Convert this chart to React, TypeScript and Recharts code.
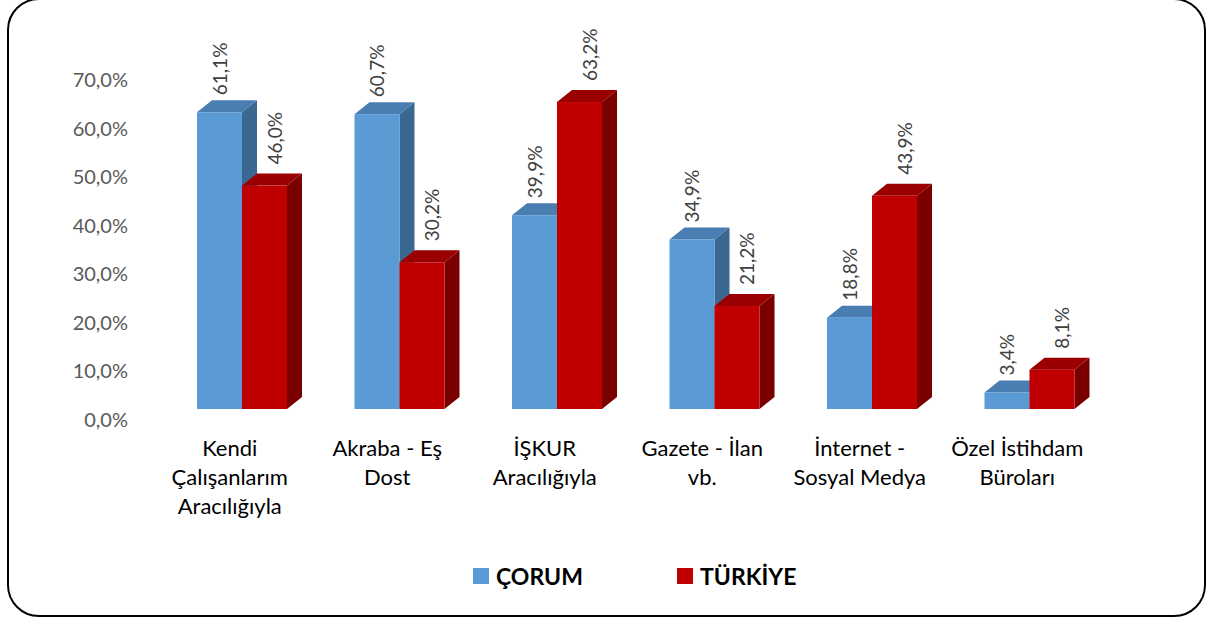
import { Bar, BarChart, LabelList, XAxis, YAxis } from "recharts";

const categories = [
  ["Kendi", "Çalışanlarım", "Aracılığıyla"],
  ["Akraba - Eş", "Dost"],
  ["İŞKUR", "Aracılığıyla"],
  ["Gazete - İlan", "vb."],
  ["İnternet -", "Sosyal Medya"],
  ["Özel İstihdam", "Büroları"],
];
const corum = [61.1, 60.7, 39.9, 34.9, 18.8, 3.4];
const turkiye = [46.0, 30.2, 63.2, 21.2, 43.9, 8.1];
const yTicks = [0, 10, 20, 30, 40, 50, 60, 70];

const data = categories.map((lines, i) => ({
  name: lines.join(" "),
  corum: corum[i],
  turkiye: turkiye[i],
}));

const FONT = "Lato, 'Open Sans', sans-serif";
const SHIFT = 12;
const DX = 15;
const DY = 12;

const pct = (v: number) => v.toFixed(1).replace(".", ",") + "%";

function makeShape(front: string, top: string, side: string) {
  return (props: any) => {
    const { x, y, width, height } = props;
    if (height == null || width == null) return null;
    const fx = x + SHIFT;
    return (
      <g>
        <polygon
          points={`${fx + width},${y} ${fx + width + DX},${y - DY} ${fx + width + DX},${y + height - DY} ${fx + width},${y + height}`}
          fill={side}
        />
        <polygon
          points={`${fx},${y} ${fx + DX},${y - DY} ${fx + width + DX},${y - DY} ${fx + width},${y}`}
          fill={top}
        />
        <rect x={fx} y={y} width={width} height={height} fill={front} />
      </g>
    );
  };
}

// Excel nudged the TÜRKİYE labels a little right of the bar centre
const makeValueLabel = (dx: number, gap: number) => (props: any) => {
  const { x, y, width, value } = props;
  const cx = x + SHIFT + width / 2 + dx;
  const sy = y - DY - gap;
  return (
    <text
      x={cx}
      y={sy}
      transform={`rotate(-90, ${cx}, ${sy})`}
      textAnchor="start"
      dominantBaseline="central"
      fontSize={19}
      fontFamily={FONT}
      fill="#404040"
    >
      {pct(Number(value))}
    </text>
  );
};

const YTick = (props: any) => {
  const { y, payload } = props;
  return (
    <text x={128} y={y + 10} textAnchor="end" dominantBaseline="central" fontSize={20} fontFamily={FONT} fill="#595959">
      {pct(payload.value)}
    </text>
  );
};

const XTick = (props: any) => {
  const { x, payload } = props;
  const lines = categories[payload.index] ?? [payload.value];
  return (
    <text textAnchor="middle" fontSize={22} fontFamily={FONT} fill="#000">
      {lines.map((l, i) => (
        <tspan key={i} x={x} y={456 + i * 29}>
          {l}
        </tspan>
      ))}
    </text>
  );
};

const legendItems = [
  { label: "ÇORUM", color: "#5B9BD5", left: 473 },
  { label: "TÜRKİYE", color: "#C00000", left: 677 },
];

export default function App() {
  return (
    <div style={{ position: "absolute", left: 0, top: 0, width: 1208, height: 619, background: "#fff", overflow: "hidden" }}>
      <div
        style={{
          position: "absolute",
          left: 7,
          top: -2,
          width: 1199,
          height: 619,
          border: "2.5px solid #000",
          borderRadius: 32,
          boxSizing: "border-box",
        }}
      />
      <BarChart
        width={1208}
        height={619}
        data={data}
        margin={{ top: 69, right: 112, bottom: 180, left: 0 }}
        barGap={0}
        barSize={45}
        style={{ position: "absolute", left: 0, top: 0 }}
      >
        <YAxis
          width={151}
          domain={[0, 70]}
          ticks={yTicks}
          axisLine={false}
          tickLine={false}
          tick={<YTick />}
          interval={0}
        />
        <XAxis dataKey="name" height={30} axisLine={false} tickLine={false} tick={<XTick />} interval={0} />
        <Bar dataKey="corum" name="ÇORUM" fill="#5B9BD5" isAnimationActive={false} shape={makeShape("#5B9BD5", "#4A7EB3", "#3B6890")}>
          <LabelList dataKey="corum" content={makeValueLabel(0, 5)} />
        </Bar>
        <Bar dataKey="turkiye" name="TÜRKİYE" fill="#C00000" isAnimationActive={false} shape={makeShape("#C00000", "#9A0000", "#7A0000")}>
          <LabelList dataKey="turkiye" content={makeValueLabel(10, 9)} />
        </Bar>
      </BarChart>
      {legendItems.map((it) => (
        <div key={it.label} style={{ position: "absolute", left: it.left, top: 562, height: 28, display: "flex", alignItems: "center" }}>
          <span style={{ width: 16, height: 16, background: it.color, display: "inline-block", marginRight: 7 }} />
          <span style={{ fontFamily: FONT, fontWeight: 700, fontSize: 23, color: "#000" }}>{it.label}</span>
        </div>
      ))}
    </div>
  );
}
